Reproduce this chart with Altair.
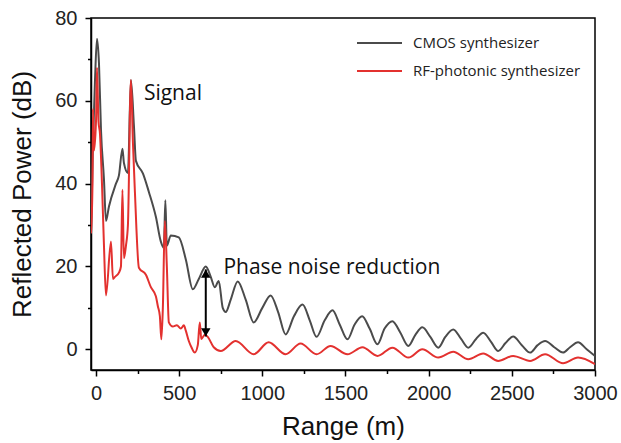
import altair as alt
import pandas as pd

# ---- data ----
cmos_x = [-30, -18, -6, 6, 18, 30, 48, 60, 78, 120, 138, 159, 168, 192, 210, 228, 240, 282, 318,
          360, 390, 408, 417, 426, 450, 498, 540, 582, 618, 660, 690, 714, 738, 762, 780, 810, 852,
          900, 948, 1000, 1050, 1095, 1140, 1190, 1242, 1285, 1326, 1375, 1422, 1465, 1512, 1555,
          1600, 1645, 1692, 1735, 1782, 1830, 1878, 1920, 1962, 2010, 2058, 2100, 2148, 2195, 2238,
          2285, 2328, 2375, 2418, 2462, 2508, 2560, 2610, 2655, 2700, 2755, 2808, 2850, 2898, 2950, 3000]
cmos_y = [28, 50, 65, 75, 69, 53, 41, 31, 34.5, 40, 42, 48.4, 45, 42.6, 65, 54, 45.5, 42.5, 38,
          32, 26, 24.5, 36, 25, 27.5, 27, 21.7, 14.5, 17, 20, 17.5, 15, 16.5, 10, 9, 12, 16.4,
          12, 6.5, 10, 13, 9, 3.6, 8, 10.8, 7, 3, 7, 9.4, 6, 2.4, 6,
          8, 5, 1.2, 5, 6.8, 4, 0.8, 3.5, 5.3, 3, 0.4, 3, 4.8, 2.5, 0.4,
          2.5, 4, 1.8, -0.4, 1.5, 3.1, 1, -0.8, 1, 2, 0.5, -0.8, 0.5, 1.7, 0, -1.6]

rf_x = [-30, -21, -18, -12, 0, 6, 15, 24, 36, 48, 60, 90, 102, 114, 138, 150, 159, 168, 180, 192,
        210, 222, 234, 258, 300, 330, 360, 372, 384, 393, 402, 414, 426, 438, 462, 486, 510, 528,
        540, 558, 576, 594, 612, 624, 633, 654, 672, 708, 750, 840, 948, 1038, 1140, 1230, 1326,
        1410, 1512, 1602, 1692, 1782, 1878, 1962, 2058, 2148, 2238, 2328, 2418, 2508, 2610, 2700,
        2808, 2898, 3000]
rf_y = [28, 40, 58, 48, 55, 68, 55, 52, 40, 25, 13, 26, 17, 17.5, 18.5, 20, 38.5, 22, 25, 30,
        65, 50, 38, 19.7, 18, 15, 12.8, 10.4, 8, 2.4, 10, 31, 20, 6.5, 5.5, 5.8, 5, 5.8,
        4.5, 2, 0.3, -0.8, 1, 6.5, 2.5, 3.5, 3, 0.5, -0.4, 2, -1.2, 1.7, -1.2, 1.4, -1.2,
        0.8, -1.2, 0.5, -1.6, 0.4, -2, 0, -2, -0.6, -2.4, -1, -2.8, -1.6, -2.8, -1.2,
        -3.4, -2, -3.6]

series_names = ["CMOS synthesizer", "RF-photonic synthesizer"]
series_colors = ["#4b4b4b", "#e3312f"]

x_ticks = [0, 500, 1000, 1500, 2000, 2500, 3000]
x_minor = [250, 750, 1250, 1750, 2250, 2750]
y_ticks = [0, 20, 40, 60, 80]
y_minor = [10, 30, 50, 70]

annot_text = ["Signal", "Phase noise reduction"]
annot_x = [288, 766]
annot_y = [60.2, 18.1]

arrow_x = [660]
arrow_top = [19.3]
arrow_bottom = [3.1]

# ---- chart ----
FONT = "Liberation Sans"
W, H = 504, 352

x_scale = alt.Scale(domain=[-30, 3000], nice=False, zero=False)
y_scale = alt.Scale(domain=[-5, 80], nice=False, zero=False)

axis_common = dict(grid=False, tickSize=6, tickWidth=1.5, tickColor="black",
                   domainColor="black", domainWidth=1.5, labelFont=FONT, labelFontSize=20,
                   labelColor="#222", titleFont=FONT, titleFontSize=26, titleFontWeight="normal",
                   titleColor="#111", labelFlush=False, format="d")

x_main = alt.X("x:Q", scale=x_scale,
               axis=alt.Axis(values=x_ticks, title="Range (m)", labelPadding=7, titlePadding=10,
                             orient="bottom", **axis_common))
y_main = alt.Y("y:Q", scale=y_scale,
               axis=alt.Axis(values=y_ticks, title="Reflected Power (dB)", labelPadding=8,
                             titlePadding=19, orient="left", **axis_common))

minor_axis = dict(grid=False, labels=False, domain=False, title=None, tickSize=3.5,
                  tickWidth=1.5, tickColor="black")
x_noaxis = alt.X("x:Q", scale=x_scale, axis=None)
y_noaxis = alt.Y("y:Q", scale=y_scale, axis=None)

cmos_df = pd.DataFrame({"x": cmos_x, "y": cmos_y})
rf_df = pd.DataFrame({"x": rf_x, "y": rf_y})

cmos_line = alt.Chart(cmos_df).mark_line(color=series_colors[0], strokeWidth=2,
                                         interpolate="monotone", clip=True).encode(x=x_main, y=y_main)
rf_line = alt.Chart(rf_df).mark_line(color=series_colors[1], strokeWidth=2,
                                     interpolate="monotone", clip=True).encode(x=x_noaxis, y=y_noaxis)

# minor ticks as extra tick-only axes on the same scales
xminor = alt.Chart(pd.DataFrame({"x": x_minor})).mark_point(opacity=0).encode(
    x=alt.X("x:Q", scale=x_scale, axis=alt.Axis(values=x_minor, orient="bottom", **minor_axis)))
yminor = alt.Chart(pd.DataFrame({"y": y_minor})).mark_point(opacity=0).encode(
    y=alt.Y("y:Q", scale=y_scale, axis=alt.Axis(values=y_minor, orient="left", **minor_axis)))

annot_df = pd.DataFrame({"x": annot_x, "y": annot_y, "t": annot_text})
annots = alt.Chart(annot_df).mark_text(align="left", baseline="alphabetic", font="Open Sans",
                                       fontSize=21, color="#111").encode(
    x=x_noaxis, y=y_noaxis, text="t:N")

arrow_df = pd.DataFrame({"x": arrow_x, "y": arrow_top, "y2": arrow_bottom})
arrow_rule = alt.Chart(arrow_df).mark_rule(color="black", strokeWidth=2).encode(
    x=x_noaxis, y=y_noaxis, y2="y2:Q")
arrow_up = alt.Chart(pd.DataFrame({"x": arrow_x, "y": arrow_top})).mark_point(
    shape="triangle-up", filled=True, size=90, color="black", opacity=1, yOffset=4.2).encode(
    x=x_noaxis, y=y_noaxis)
arrow_dn = alt.Chart(pd.DataFrame({"x": arrow_x, "y": arrow_bottom})).mark_point(
    shape="triangle-down", filled=True, size=90, color="black", opacity=1, yOffset=-4.2).encode(
    x=x_noaxis, y=y_noaxis)

legend_layers = []
for i, (name, col) in enumerate(zip(series_names, series_colors)):
    one = pd.DataFrame({"label": [name]})
    ypos = 25 + 28 * i
    legend_layers.append(alt.Chart(one).mark_rule(color=col, strokeWidth=2).encode(
        x=alt.value(266), x2=alt.value(311), y=alt.value(ypos)))
    legend_layers.append(alt.Chart(one).mark_text(align="left", baseline="middle", font="Open Sans",
                                                  fontSize=15, color="#222").encode(
        x=alt.value(322), y=alt.value(ypos), text="label:N"))

chart = alt.layer(cmos_line, rf_line, xminor, yminor, annots, arrow_rule, arrow_up, arrow_dn,
                  *legend_layers).resolve_axis(x="independent", y="independent").properties(
    width=W, height=H,
    autosize=alt.AutoSizeParams(type="none"),
    padding={"left": 91, "top": 18, "right": 26, "bottom": 73},
    background="white",
).configure_view(stroke="black", strokeWidth=1.5)

chart.save("out.html", embed_options={"renderer": "svg", "actions": False})
